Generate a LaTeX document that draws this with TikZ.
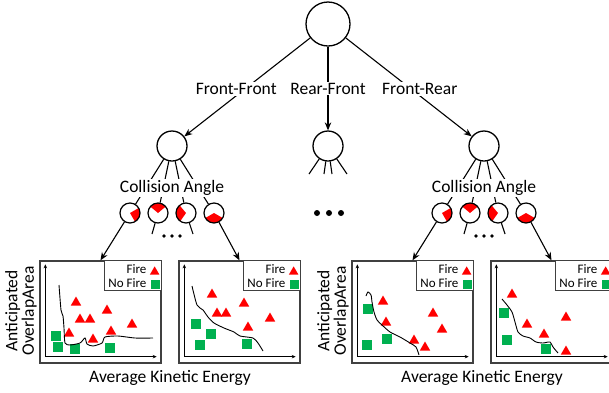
\documentclass[tikz,border=0pt]{standalone}
\usepackage{fontspec}
\setmainfont{Carlito}
\usepackage{xcolor}
\definecolor{firered}{HTML}{FF0000}
\definecolor{safegreen}{HTML}{00B050}
\definecolor{frameink}{HTML}{404040}
\usepackage{tikz}
\usetikzlibrary{arrows.meta,positioning,shapes.geometric}
\tikzset{
  >={Stealth[length=8pt,width=6.5pt]},
  every node/.style={font=\fontsize{17.5}{17}\selectfont},
  hub/.style={circle,draw,line width=1.3pt,fill=white,inner sep=0pt,minimum size=30pt},
  rootnode/.style={hub,minimum size=44pt},
  angnode/.style={circle,draw,line width=1.2pt,fill=white,inner sep=0pt,minimum size=20pt},
  wedge/.style 2 args={angnode,path picture={
      \fill[firered] (path picture bounding box.center) -- ++(#1:12pt)
        arc[start angle=#1,end angle=#2,radius=12pt] -- cycle;}},
  branch/.style={->,line width=1.1pt},
  fan/.style={line width=1.1pt},
  elbl/.style={fill=white,inner sep=1pt},
  plotframe/.style={draw=frameink,line width=1.3pt,inner sep=0pt,
                    minimum width=121pt,minimum height=102pt},
  legbox/.style={draw=frameink,line width=1.1pt,fill=white,inner sep=0pt,
                 minimum width=57pt,minimum height=30pt},
  legtxt/.style={font=\fontsize{13}{13}\selectfont,anchor=east,inner sep=0pt},
  axis/.style={{Stealth[length=4pt,width=3.5pt]}-{Stealth[length=4pt,width=3.5pt]},line width=0.9pt},
  trend/.style={line width=0.9pt},
  fire/.style={regular polygon,regular polygon sides=3,fill=firered,inner sep=0pt,
               minimum size=12pt,yshift=-1.5pt},
  nofire/.style={fill=safegreen,inner sep=0pt,minimum size=10pt},
  ylbl/.style={rotate=90,align=center,font=\fontsize{17.5}{16.5}\selectfont},
}

\begin{document}
\begin{tikzpicture}[x=1pt,y=1pt]
  \useasboundingbox (0,0) rectangle (609,-392);
  \clip (0,0) rectangle (609,-392);

  % tree
  \node[rootnode] (top) at (328,-24) {};
  \node[hub] (ff) at (172,-146) {};
  \node[hub] (rf) at (328,-146) {};
  \node[hub] (fr) at (484,-146) {};
  \draw[branch] (top) -- node[elbl,xshift=-11pt,yshift=-2pt] (lff) {Front-Front} (ff);
  \draw[branch] (top) -- node[elbl] (lrf) {Rear-Front} (rf);
  \draw[branch] (top) -- node[elbl,xshift=11pt,yshift=-2pt] (lfr) {Front-Rear} (fr);

  \coordinate (m1) at (309,-174);
  \coordinate (m2) at (324,-174);
  \coordinate (m3) at (332,-174);
  \coordinate (m4) at (347,-174);
  \foreach \c in {m1,m2,m3,m4} \draw[fan] (rf) -- (\c);
  \foreach \x in {317,329,341} \fill (\x,-213) circle (3pt);

  \node[wedge={-60}{30}] (la) at (130,-213) {};
  \node[wedge={40}{140}] (lb) at (158,-213) {};
  \node[wedge={130}{235}] (lc) at (186,-213) {};
  \node[wedge={210}{330}] (ld) at (214,-213) {};
  \node[wedge={-60}{30}] (ra) at (442,-213) {};
  \node[wedge={40}{140}] (rb) at (470,-213) {};
  \node[wedge={130}{235}] (rc) at (498,-213) {};
  \node[wedge={210}{330}] (rd) at (526,-213) {};
  \foreach \c in {la,lb,lc,ld} \draw[fan] (ff) -- (\c);
  \foreach \c in {ra,rb,rc,rd} \draw[fan] (fr) -- (\c);
  \node[elbl] (lca) at (172,-188) {Collision Angle};
  \node[elbl] (rca) at (484,-188) {Collision Angle};

  \coordinate (lbs) at (152,-234);
  \coordinate (lcs) at (193,-234);
  \coordinate (rbs) at (464,-234);
  \coordinate (rcs) at (505,-234);
  \draw[fan] (lb) -- (lbs);
  \draw[fan] (lc) -- (lcs);
  \draw[fan] (rb) -- (rbs);
  \draw[fan] (rc) -- (rcs);
  \foreach \x in {164,172,180,476,484,492} \fill (\x,-236) circle (1.8pt);

  % plots
  \node[plotframe] (pa) at (100.5,-312) {};
  \node[plotframe] (pb) at (239.5,-312) {};
  \node[plotframe] (pc) at (412.5,-312) {};
  \node[plotframe] (pd) at (551.5,-312) {};
  \draw[branch] (la) -- (pa.north);
  \draw[branch] (ld) -- (pb.north);
  \draw[branch] (ra) -- (pc.north);
  \draw[branch] (rd) -- (pd.north);

  \foreach \p in {pa,pb,pc,pd}{
    \draw[axis] ([shift={(6pt,-4pt)}]\p.north west) |- ([shift={(-5pt,7pt)}]\p.south east);
    \node[legbox,anchor=north east] (\p-leg) at (\p.north east) {};
    \node[legtxt] (\p-t1) at ([shift={(-15pt,-9pt)}]\p-leg.north east) {Fire};
    \node[legtxt] (\p-t2) at ([shift={(-15pt,-23pt)}]\p-leg.north east) {No Fire};
    \node[fire,minimum size=11pt] (\p-m1) at ([shift={(-7pt,-10pt)}]\p-leg.north east) {};
    \node[nofire,minimum size=9pt] (\p-m2) at ([shift={(-6pt,-24pt)}]\p-leg.north east) {};
  }

  \foreach \x/\y [count=\i] in {76/301,80/318,90/318,107/309,132/323,69/332,93/338,111/330}
    \node[fire] (fa\i) at (\x,-\y) {};
  \foreach \x/\y [count=\i] in {56/336,58/347,75/349,110/348}
    \node[nofire] (na\i) at (\x,-\y) {};
  \draw[trend] plot[smooth,tension=0.4] coordinates {(59,-285) (61,-310) (63,-316) (64,-328)
    (65,-343) (70,-345) (80,-343) (85,-338) (87,-344) (93,-346) (102,-343) (105,-337)
    (118,-336) (135,-338) (153,-338)};

  \foreach \x/\y [count=\i] in {212/293,244/302,217/312,226/312,248/326,270/317}
    \node[fire] (fb\i) at (\x,-\y) {};
  \foreach \x/\y [count=\i] in {196/324,211/334,200/345,247/344}
    \node[nofire] (nb\i) at (\x,-\y) {};
  \draw[trend] plot[smooth,tension=0.4] coordinates {(192,-286) (197,-305) (203,-310)
    (208,-317) (214,-323) (224,-328) (234,-332) (240,-336) (253,-338) (258,-343) (263,-351)};

  \foreach \x/\y [count=\i] in {383/300,386/321,433/312,442/328,414/339,425/346}
    \node[fire] (fc\i) at (\x,-\y) {};
  \foreach \x/\y [count=\i] in {368/309,367/345,387/339}
    \node[nofire] (nc\i) at (\x,-\y) {};
  \draw[trend] plot[smooth,tension=0.4] coordinates {(366,-296) (368,-292) (371,-295)
    (372,-302) (374,-312) (377,-320) (382,-325) (390,-332) (400,-337) (410,-343)
    (416,-347) (419,-355)};

  \foreach \x/\y [count=\i] in {512/293,527/323,544/333,566/316,566/350}
    \node[fire] (fd\i) at (\x,-\y) {};
  \foreach \x/\y [count=\i] in {504/313,507/340,546/349}
    \node[nofire] (nd\i) at (\x,-\y) {};
  \draw[trend] plot[smooth,tension=0.4] coordinates {(502,-299) (507,-305) (512,-312)
    (515,-322) (518,-332) (523,-336) (530,-338) (536,-342) (543,-343) (550,-342)
    (553,-347) (558,-353)};

  \node[ylbl] (yla) at (21,-311) {Anticipated\\OverlapArea};
  \node[ylbl] (ylc) at (333,-311) {Anticipated\\OverlapArea};
  \node (xla) at (170,-378) {Average Kinetic Energy};
  \node (xlc) at (482,-378) {Average Kinetic Energy};
\end{tikzpicture}
\end{document}
